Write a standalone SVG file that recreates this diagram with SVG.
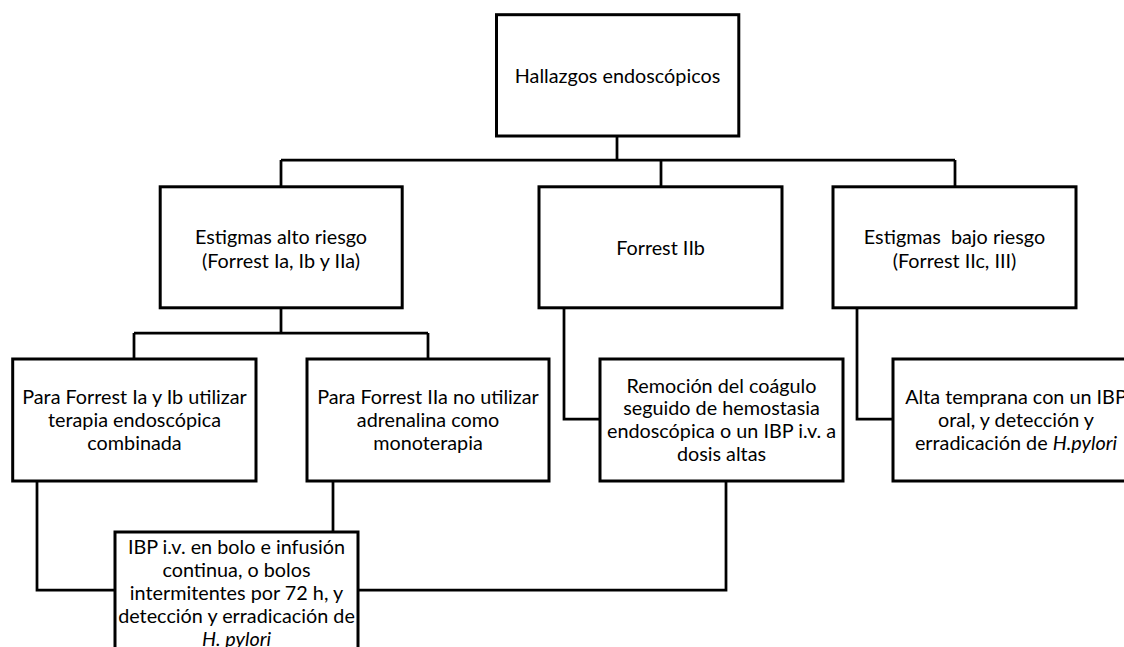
<svg xmlns="http://www.w3.org/2000/svg" width="1124" height="647" viewBox="0 0 1124 647">
<style>
.box{fill:#fff;stroke:#000;stroke-width:3}
.ln{fill:none;stroke:#000;stroke-width:2.75;stroke-linejoin:miter}
text{font-family:Lato,"Liberation Sans",sans-serif;font-size:19.8px;fill:#000;text-anchor:middle}
.it{font-style:italic}
.pre{white-space:pre}
</style>
<rect width="1124" height="647" fill="#fff"/>
<g id="connectors">
<path class="ln" d="M617,136 V160 M281,160 H955 M281,160 V187 M661,160 V187 M955,160 V187"/>
<path class="ln" d="M281,308 V333 M134,333 H428 M134,333 V359 M428,333 V359"/>
<path class="ln" d="M564,308 V419 H600"/>
<path class="ln" d="M857,308 V419 H893"/>
<path class="ln" d="M37,481 V590 H115"/>
<path class="ln" d="M333,481 V532"/>
<path class="ln" d="M726,481 V590 H358"/>
</g>
<g id="n-hallazgos">
<rect class="box" x="496.5" y="14.7" width="242.3" height="121.3"/>
<text x="617.5" y="83">Hallazgos endoscópicos</text>
</g>
<g id="n-alto">
<rect class="box" x="160.2" y="186.8" width="242" height="121"/>
<text x="281" y="243.5">Estigmas alto riesgo</text>
<text x="281" y="267.5">(Forrest Ia, Ib y IIa)</text>
</g>
<g id="n-iib">
<rect class="box" x="539" y="186.8" width="243" height="121"/>
<text x="660.5" y="255">Forrest IIb</text>
</g>
<g id="n-bajo">
<rect class="box" x="833" y="186.8" width="243" height="121"/>
<text x="954.5" y="243.5" class="pre" xml:space="preserve">Estigmas  bajo riesgo</text>
<text x="954.5" y="267.5">(Forrest IIc, III)</text>
</g>
<g id="n-iaib">
<rect class="box" x="12.7" y="359" width="243.3" height="122"/>
<text x="134.5" y="404">Para Forrest Ia y Ib utilizar</text>
<text x="134.5" y="427">terapia endoscópica</text>
<text x="134.5" y="450">combinada</text>
</g>
<g id="n-iia">
<rect class="box" x="307" y="359" width="242" height="122"/>
<text x="428" y="404">Para Forrest IIa no utilizar</text>
<text x="428" y="427">adrenalina como</text>
<text x="428" y="450">monoterapia</text>
</g>
<g id="n-remocion">
<rect class="box" x="600" y="359" width="243" height="122"/>
<text x="721.5" y="392.5">Remoción del coágulo</text>
<text x="721.5" y="415">seguido de hemostasia</text>
<text x="721.5" y="437.5">endoscópica o un IBP i.v. a</text>
<text x="721.5" y="460.5">dosis altas</text>
</g>
<g id="n-alta">
<rect class="box" x="893" y="359" width="246" height="122"/>
<text x="1016" y="404">Alta temprana con un IBP</text>
<text x="1016" y="427">oral, y detección y</text>
<text x="1016" y="450">erradicación de <tspan class="it">H.pylori</tspan></text>
</g>
<g id="n-ibp">
<rect class="box" x="115" y="532" width="243" height="150"/>
<text x="236.5" y="554">IBP i.v. en bolo e infusión</text>
<text x="236.5" y="577">continua, o bolos</text>
<text x="236.5" y="600">intermitentes por 72 h, y</text>
<text x="236.5" y="623">detección y erradicación de</text>
<text x="236.5" y="646" class="it">H. pylori</text>
</g>
</svg>
